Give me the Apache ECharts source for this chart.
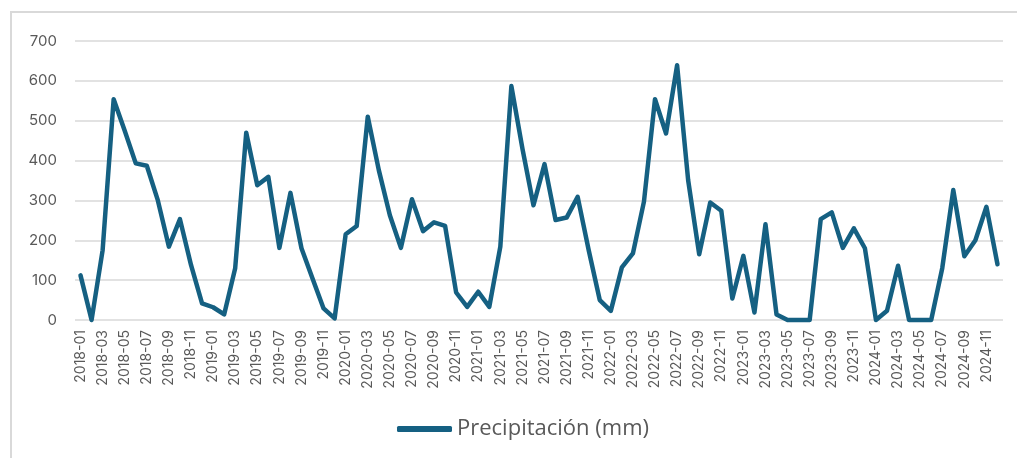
<!DOCTYPE html>
<html>
<head>
<meta charset="utf-8">
<script src="https://cdn.jsdelivr.net/npm/echarts@6/dist/echarts.min.js"></script>
<style>
  html, body { margin: 0; padding: 0; background: #fff; }
  #chart { width: 1017px; height: 458px; }
</style>
</head>
<body>
<div id="chart"></div>
<script>
// meses 2018-01 .. 2024-12
var years = ["2018", "2019", "2020", "2021", "2022", "2023", "2024"];
var months = ["01", "02", "03", "04", "05", "06", "07", "08", "09", "10", "11", "12"];
var categories = [];
years.forEach(function (y) {
  months.forEach(function (m) { categories.push(y + "-" + m); });
});

var seriesName = "Precipitación (mm)";
var precip2018 = [112, 0, 175, 554, 475, 393, 387, 300, 184, 253, 138, 42];
var precip2019 = [32, 14, 130, 470, 338, 359, 181, 319, 180, 104, 29, 4];
var precip2020 = [215, 236, 510, 376, 263, 181, 303, 223, 245, 236, 69, 33];
var precip2021 = [71, 33, 184, 587, 430, 288, 391, 251, 257, 309, 175, 50];
var precip2022 = [23, 132, 167, 297, 554, 468, 639, 351, 165, 295, 274, 54];
var precip2023 = [161, 19, 240, 14, 0, 0, 0, 253, 270, 181, 230, 180];
var precip2024 = [0, 23, 136, 0, 0, 0, 130, 326, 160, 200, 284, 140];
var precipitacion = [].concat(precip2018, precip2019, precip2020, precip2021,
  precip2022, precip2023, precip2024);

var yTicks = [0, 100, 200, 300, 400, 500, 600, 700];

var chart = echarts.init(document.getElementById("chart"));
var option = {
  backgroundColor: "#fff",
  animation: false,
  textStyle: { fontFamily: "Inter, Roboto, sans-serif" },
  graphic: [{
    type: "rect",
    shape: { x: 11, y: 12, width: 1200, height: 600 },
    style: { fill: "none", stroke: "#d9d9d9", lineWidth: 2 },
    silent: true
  }],
  grid: { left: 75, right: 14, top: 41, bottom: 138, containLabel: false },
  legend: {
    data: [seriesName],
    left: 392,
    top: 413,
    icon: "roundRect",
    itemWidth: 55,
    itemHeight: 6,
    itemGap: 5,
    textStyle: { color: "#595959", fontSize: 22, fontFamily: "'Open Sans', sans-serif" }
  },
  xAxis: {
    type: "category",
    data: categories,
    boundaryGap: true,
    axisLine: { show: false },
    axisTick: { show: false },
    axisLabel: {
      interval: 1,
      rotate: 90,
      margin: 10,
      color: "#595959",
      fontSize: 14
    }
  },
  yAxis: {
    type: "value",
    min: yTicks[0],
    max: yTicks[yTicks.length - 1],
    interval: 100,
    axisLine: { show: false },
    axisTick: { show: false },
    axisLabel: { color: "#595959", fontSize: 15, margin: 18 },
    splitLine: { lineStyle: { color: "#d9d9d9", width: 1.5 } }
  },
  series: [{
    name: seriesName,
    type: "line",
    data: precipitacion,
    showSymbol: false,
    symbol: "none",
    clip: false,
    color: "#156082",
    lineStyle: { width: 4.5, color: "#156082", join: "round", cap: "round" }
  }]
};
chart.setOption(option);
</script>
</body>
</html>
